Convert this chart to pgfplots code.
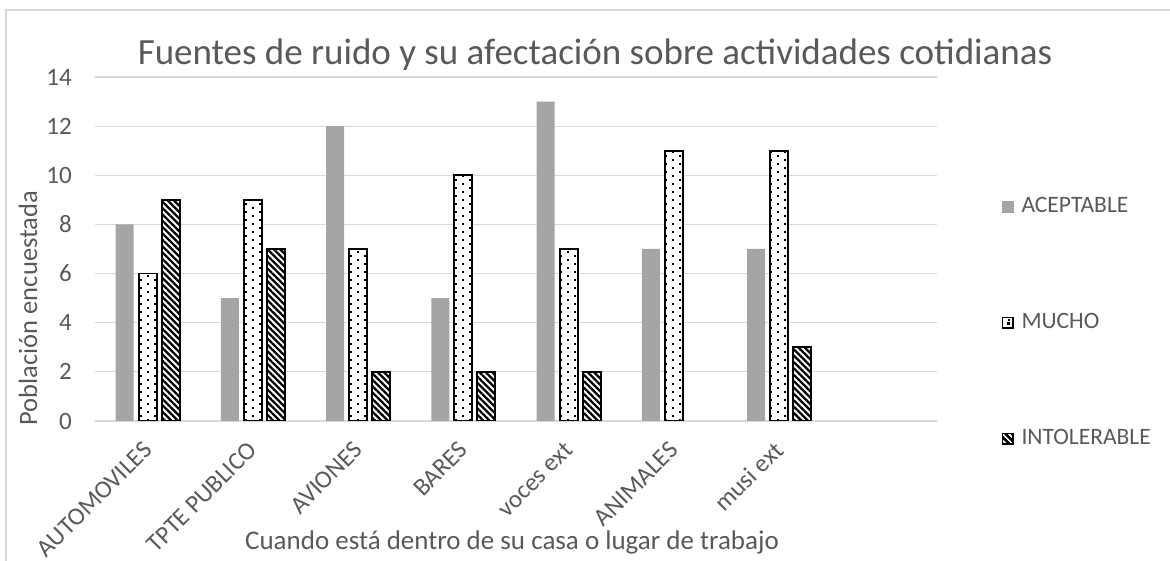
\documentclass[border=0pt]{standalone}
\usepackage{pgfplots}
\pgfplotsset{compat=1.18}
\usepackage{fontspec}
\setmainfont{Carlito}
\usetikzlibrary{patterns,patterns.meta}
\definecolor{txt}{HTML}{595959}
\definecolor{gridc}{HTML}{D9D9D9}
\definecolor{barg}{HTML}{A5A5A5}
\pgfdeclarepatternformonly{mydots}{\pgfpoint{-1pt}{-1pt}}{\pgfpoint{15pt}{9pt}}{\pgfpoint{14pt}{8pt}}{%
  \pgfpathrectangle{\pgfpoint{0pt}{0pt}}{\pgfpoint{1.8pt}{1.8pt}}%
  \pgfpathrectangle{\pgfpoint{7pt}{4pt}}{\pgfpoint{1.8pt}{1.8pt}}%
  \pgfusepath{fill}}
\pgfplotstableread{
x A M
0 8 6
1 5 9
2 12 7
3 5 10
4 13 7
5 7 11
6 7 11
}\dataAM
\pgfplotstableread{
x I
0 9
1 7
2 2
3 2
4 2
6 3
}\dataI
\begin{document}
\begin{tikzpicture}[x=1pt,y=1pt]
\path[use as bounding box] (0,0) rectangle (1170,561);
\draw[gridc, line width=1.5pt] (6,-5) -- (6,551) -- (1175,551);
\begin{axis}[
  at={(95pt,140pt)}, anchor=south west,
  scale only axis, width=842pt, height=344pt,
  ybar=5pt, bar width=18pt,
  xmin=-0.5, xmax=7.5, ymin=0, ymax=14,
  ytick={0,2,...,14},
  xtick={0,...,6},
  xticklabels={AUTOMOVILES,TPTE PUBLICO,AVIONES,BARES,voces ext,ANIMALES,musi ext},
  axis line style={draw=none},
  major tick length=0pt,
  ymajorgrids, major grid style={gridc, line width=1.2pt},
  tick label style={font=\fontsize{25}{28}\selectfont, text=txt},
  /pgf/number format/assume math mode=true,
  yticklabel style={inner sep=0pt, anchor=east, xshift=-23pt},
  xticklabel style={yshift=-25pt, rotate=45, anchor=east, inner sep=0pt},
  legend style={at={(1.0764,0.654)}, anchor=north west, draw=none, fill=none,
    inner sep=0pt, row sep=95pt, column sep=8pt,
    nodes={font=\fontsize{23.5}{26}\selectfont, text=txt, inner sep=0pt, text height=16pt, text depth=5pt, anchor=west}},
  legend cell align=left,
]
\addplot[fill=barg, draw=none,
  legend image code/.code={\fill[barg] (0pt,-6pt) rectangle (12pt,6pt);}]
  table[x=x,y=A]{\dataAM};
\addlegendentry{ACEPTABLE}
\addplot[fill=white, draw=black, line width=1.8pt, postaction={pattern=mydots, pattern color=black},
  legend image code/.code={\draw[fill=white, draw=black, line width=1.6pt] (0.8pt,-5.2pt) rectangle (11.2pt,5.2pt); \fill[black, draw=none] (6pt,-1.5pt) rectangle (7.6pt,0.1pt);}]
  table[x=x,y=M]{\dataAM};
\addlegendentry{MUCHO}
\addplot[fill=white, draw=black, line width=1.8pt, postaction={pattern={Lines[angle=-45,distance=4.5pt,line width=2.3pt]}, pattern color=black},
  legend image code/.code={\draw[fill=white, draw=black, line width=1.6pt, postaction={pattern={Lines[angle=-45,distance=4.5pt,line width=2.3pt]}, pattern color=black}] (0.8pt,-5.2pt) rectangle (11.2pt,5.2pt);}]
  table[x=x,y=I]{\dataI};
\addlegendentry{INTOLERABLE}
\end{axis}
\node[anchor=base, text=txt, font=\fontsize{37}{41}\selectfont] at (595,496) {Fuentes de ruido y su afectación sobre actividades cotidianas};
\node[anchor=base, text=txt, font=\fontsize{27}{31}\selectfont] at (512,11) {Cuando está dentro de su casa o lugar de trabajo};
\node[anchor=base, rotate=90, text=txt, font=\fontsize{26.5}{30}\selectfont] at (37,253) {Población encuestada};
\end{tikzpicture}
\end{document}
